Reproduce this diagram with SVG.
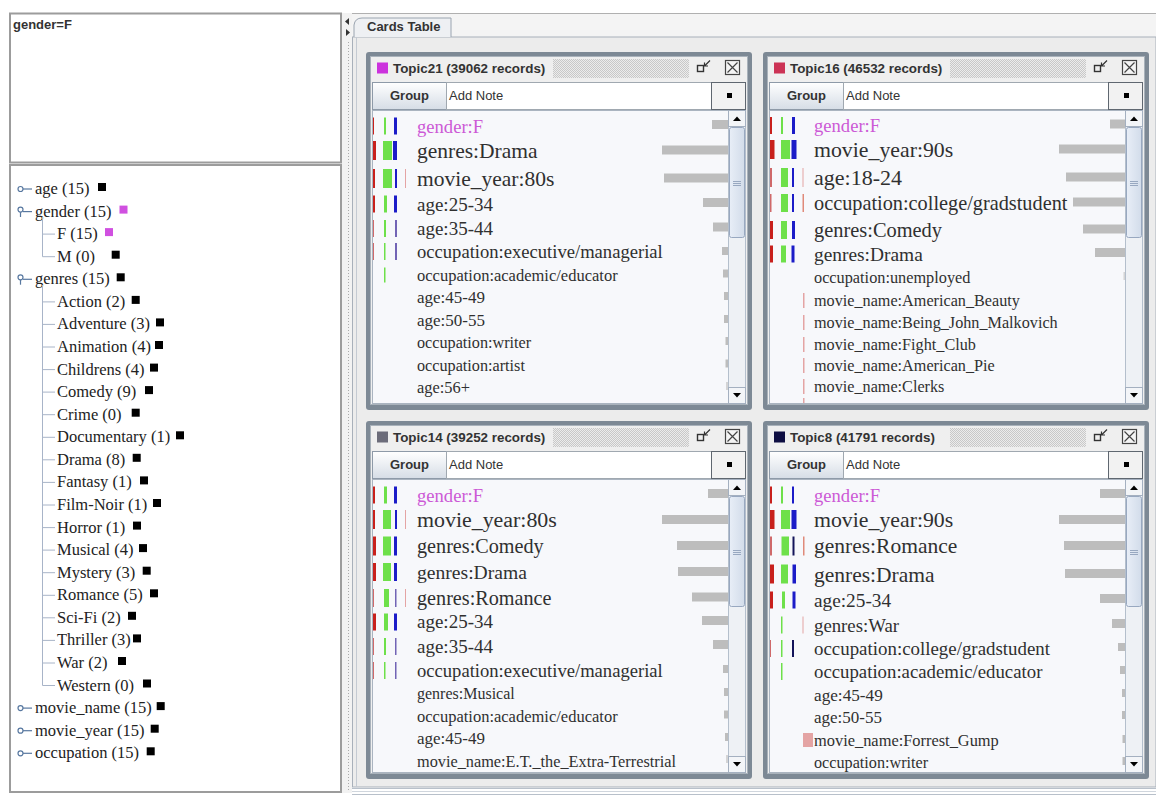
<svg xmlns="http://www.w3.org/2000/svg" width="1156" height="806" viewBox="0 0 1156 806">
<style>
.t{font-family:"Liberation Serif","Times New Roman",serif;fill:#303030}
.tr{font-family:"Liberation Serif","Times New Roman",serif;fill:#222;font-size:16.5px}
.ui{font-family:"Liberation Sans",Arial,sans-serif;fill:#333;font-size:13px}
.tt{font-size:13.4px}
.b{font-weight:bold}
.mag{fill:#cc5ad6}
.r{fill:#c8201c}
.rf{fill:#c23a3a;opacity:.75}
.g{fill:#6ee04a}
.bl{fill:#1c1cc8}
.pu{fill:#5a4aa8;opacity:.85}
.nv{fill:#14145a}
.p{fill:#e4a4a4}
.gy{fill:#bdbdbd}
.sq{fill:#000}
.sqm{fill:#d050e0}
.ln{stroke:#a8b4c8;stroke-width:1;fill:none}
.ic{stroke:#5878a0;stroke-width:1.2;fill:#fff}
</style>
<defs>
<pattern id="dots" width="2" height="2" patternUnits="userSpaceOnUse">
<rect width="2" height="2" fill="#ececec"/><rect width="1" height="1" fill="#c8c8c8"/><rect x="1" y="1" width="1" height="1" fill="#c8c8c8"/>
</pattern>
<pattern id="dots2" width="3" height="3" patternUnits="userSpaceOnUse">
<rect width="3" height="3" fill="#f2f2f2"/><rect width="1" height="1" fill="#aaaaaa"/>
</pattern>
<linearGradient id="btnGrad" x1="0" y1="0" x2="0" y2="1">
<stop offset="0" stop-color="#ffffff"/><stop offset="1" stop-color="#d6dde6"/>
</linearGradient>
<linearGradient id="thumbGrad" x1="0" y1="0" x2="1" y2="0">
<stop offset="0" stop-color="#e8eef7"/><stop offset="1" stop-color="#d2dcea"/>
</linearGradient>
<g id="cardFrame">
<rect x="366" y="52" width="386" height="358" rx="3" fill="#7d8995"/>
<rect x="370.5" y="56.5" width="377" height="348" fill="#efefef" stroke="#a9b2bb"/>
<rect x="553" y="59" width="136" height="19" fill="url(#dots)"/>
<rect x="697.5" y="65.5" width="6" height="6" fill="none" stroke="#333" stroke-width="1.4"/>
<path d="M710 60.5 L704.5 66 M704.5 62.5 L704.5 66 L708 66" fill="none" stroke="#333" stroke-width="1.2"/>
<rect x="725.5" y="60.5" width="14" height="14" fill="#f4f4f4" stroke="#444" stroke-width="1.2"/>
<path d="M727.5 62.5 L737.5 72.5 M737.5 62.5 L727.5 72.5" stroke="#444" stroke-width="1.2"/>
<rect x="372.5" y="82.5" width="74" height="27" fill="url(#btnGrad)" stroke="#8e9aa8"/>
<rect x="446.5" y="82.5" width="265" height="27" fill="#ffffff" stroke="#a0a8b0"/>
<rect x="711.5" y="82.5" width="34" height="27" fill="#f2f2f2" stroke="#5f6770"/>
<rect x="727" y="93" width="5" height="5" fill="#000"/>
<rect x="372.5" y="110.5" width="356" height="293" fill="#f7f8fb" stroke="#aab4c0"/>
<rect x="728.5" y="110.5" width="17" height="293" fill="#eef1f5" stroke="#b4bfcc"/>
<rect x="728.5" y="110.5" width="17" height="16" fill="#f3f5f8" stroke="#a4b0c0"/>
<path d="M733 121 L741 121 L737 116.5 Z" fill="#000"/>
<rect x="729.5" y="127.5" width="15" height="110" rx="2" fill="url(#thumbGrad)" stroke="#98a8c0"/>
<path d="M733 181.5h8 M733 183.5h8 M733 185.5h8" stroke="#98a8c0"/>
<rect x="728.5" y="387.5" width="17" height="16" fill="#f3f5f8" stroke="#a4b0c0"/>
<path d="M733 393 L741 393 L737 397.5 Z" fill="#000"/>
</g>
<clipPath id="listClip"><rect x="373" y="111" width="355" height="292"/></clipPath>
</defs>

<rect x="0" y="0" width="1156" height="806" fill="#ffffff"/>

<g id="left-panel">
<rect x="10" y="13.5" width="331" height="149" fill="#fff" stroke="#9c9c9c" stroke-width="2"/>
<text class="ui b" x="13" y="28.5">gender=F</text>
<rect x="10" y="165" width="331" height="627" fill="#fff" stroke="#9c9c9c" stroke-width="2"/>
</g>

<g id="divider">
<rect x="342" y="13" width="10" height="780" fill="#f2f2f2"/>
<rect x="346" y="40" width="4" height="752" fill="url(#dots2)"/>
<path d="M349 18 L345 21.5 L349 25 Z" fill="#333"/>
<path d="M346 29 L350 32.5 L346 36 Z" fill="#333"/>
</g>

<g id="right-panel">
<rect x="352" y="13" width="804" height="24" fill="#f4f4f4"/>
<line x1="352" y1="13.5" x2="1156" y2="13.5" stroke="#b0b0b0"/>
<rect x="352.5" y="37" width="803.5" height="750" fill="#ececec" stroke="#a8b0ba"/>
<line x1="356.5" y1="37" x2="356.5" y2="787" stroke="#c4cad2"/>
<path d="M354 37 L354 25 Q355 18 362 18 L451 18 L451 37" fill="#eef0f3" stroke="#9aa4b0"/>
<text class="ui b" x="367" y="31">Cards Table</text>
<line x1="352" y1="788.5" x2="1156" y2="788.5" stroke="#b8c0ca"/>
<line x1="352" y1="791.5" x2="1156" y2="791.5" stroke="#d0d6dd"/>
<line x1="352" y1="794.5" x2="1156" y2="794.5" stroke="#b8c0ca"/>
</g>

<g id="tree">
<g id="n-age"><circle class="ic" cx="20.5" cy="189" r="2.5"/><line class="ic" x1="23" y1="189" x2="32" y2="189"/><text class="tr" x="35" y="194">age (15)</text><rect class="sq" x="98" y="183" width="8" height="8"/></g>
<g id="n-gender"><circle class="ic" cx="20.5" cy="209.6" r="2.5"/><line class="ic" x1="20.5" y1="212.2" x2="20.5" y2="217" /><line class="ic" x1="23" y1="211.6" x2="32" y2="211.6"/><text class="tr" x="35" y="216.6">gender (15)</text><rect class="sqm" x="119.5" y="205.6" width="8" height="8"/></g>
<g id="n-F"><text class="tr" x="57" y="239.1">F (15)</text><rect class="sqm" x="105" y="228.1" width="8" height="8"/></g>
<g id="n-M"><text class="tr" x="57" y="261.7">M (0)</text><rect class="sq" x="111.7" y="250.7" width="8" height="8"/></g>
<g id="n-genres"><circle class="ic" cx="20.5" cy="277.3" r="2.5"/><line class="ic" x1="20.5" y1="279.9" x2="20.5" y2="284.7"/><line class="ic" x1="23" y1="279.3" x2="32" y2="279.3"/><text class="tr" x="35" y="284.3">genres (15)</text><rect class="sq" x="116.7" y="273.3" width="8" height="8"/></g>
<g id="n-Action"><text class="tr" x="57" y="306.9">Action (2)</text><rect class="sq" x="131.7" y="295.9" width="8" height="8"/></g>
<g id="n-Adventure"><text class="tr" x="57" y="329.4">Adventure (3)</text><rect class="sq" x="156" y="318.4" width="8" height="8"/></g>
<g id="n-Animation"><text class="tr" x="57" y="352">Animation (4)</text><rect class="sq" x="155" y="341" width="8" height="8"/></g>
<g id="n-Childrens"><text class="tr" x="57" y="374.6">Childrens (4)</text><rect class="sq" x="150" y="363.6" width="8" height="8"/></g>
<g id="n-Comedy"><text class="tr" x="57" y="397.1">Comedy (9)</text><rect class="sq" x="145" y="386.1" width="8" height="8"/></g>
<g id="n-Crime"><text class="tr" x="57" y="419.7">Crime (0)</text><rect class="sq" x="131.7" y="408.7" width="8" height="8"/></g>
<g id="n-Documentary"><text class="tr" x="57" y="442.3">Documentary (1)</text><rect class="sq" x="176" y="431.3" width="8" height="8"/></g>
<g id="n-Drama"><text class="tr" x="57" y="464.8">Drama (8)</text><rect class="sq" x="132.7" y="453.8" width="8" height="8"/></g>
<g id="n-Fantasy"><text class="tr" x="57" y="487.4">Fantasy (1)</text><rect class="sq" x="140" y="476.4" width="8" height="8"/></g>
<g id="n-FilmNoir"><text class="tr" x="57" y="510">Film-Noir (1)</text><rect class="sq" x="153" y="499" width="8" height="8"/></g>
<g id="n-Horror"><text class="tr" x="57" y="532.6">Horror (1)</text><rect class="sq" x="133" y="521.6" width="8" height="8"/></g>
<g id="n-Musical"><text class="tr" x="57" y="555.1">Musical (4)</text><rect class="sq" x="139" y="544.1" width="8" height="8"/></g>
<g id="n-Mystery"><text class="tr" x="57" y="577.7">Mystery (3)</text><rect class="sq" x="142.7" y="566.7" width="8" height="8"/></g>
<g id="n-Romance"><text class="tr" x="57" y="600.3">Romance (5)</text><rect class="sq" x="150" y="589.3" width="8" height="8"/></g>
<g id="n-SciFi"><text class="tr" x="57" y="622.8">Sci-Fi (2)</text><rect class="sq" x="128" y="611.8" width="8" height="8"/></g>
<g id="n-Thriller"><text class="tr" x="57" y="645.4">Thriller (3)</text><rect class="sq" x="133" y="634.4" width="8" height="8"/></g>
<g id="n-War"><text class="tr" x="57" y="668">War (2)</text><rect class="sq" x="118" y="657" width="8" height="8"/></g>
<g id="n-Western"><text class="tr" x="57" y="690.5">Western (0)</text><rect class="sq" x="143" y="679.5" width="8" height="8"/></g>
<g id="n-movie_name"><circle class="ic" cx="20.5" cy="708.1" r="2.5"/><line class="ic" x1="23" y1="708.1" x2="32" y2="708.1"/><text class="tr" x="35" y="713.1">movie_name (15)</text><rect class="sq" x="156.7" y="702.1" width="8" height="8"/></g>
<g id="n-movie_year"><circle class="ic" cx="20.5" cy="730.7" r="2.5"/><line class="ic" x1="23" y1="730.7" x2="32" y2="730.7"/><text class="tr" x="35" y="735.7">movie_year (15)</text><rect class="sq" x="150.7" y="724.7" width="8" height="8"/></g>
<g id="n-occupation"><circle class="ic" cx="20.5" cy="753.3" r="2.5"/><line class="ic" x1="23" y1="753.3" x2="32" y2="753.3"/><text class="tr" x="35" y="758.3">occupation (15)</text><rect class="sq" x="146.7" y="747.3" width="8" height="8"/></g>
</g>

<g id="connectors">
<path class="ln" d="M42.5 217 V256.7 M42.5 234.1 H55 M42.5 256.7 H55"/>
<path class="ln" d="M42.5 285 V685.5 M42.5 301.9 H55 M42.5 324.4 H55 M42.5 347 H55 M42.5 369.6 H55 M42.5 392.1 H55 M42.5 414.7 H55 M42.5 437.3 H55 M42.5 459.8 H55 M42.5 482.4 H55 M42.5 505 H55 M42.5 527.6 H55 M42.5 550.1 H55 M42.5 572.7 H55 M42.5 595.3 H55 M42.5 617.8 H55 M42.5 640.4 H55 M42.5 663 H55 M42.5 685.5 H55"/>
</g>

<g id="card-topic21">
<use href="#cardFrame"/>
<rect x="377" y="62.5" width="11" height="11" fill="#cc33dd"/>
<text class="ui b tt" x="393" y="73">Topic21 (39062 records)</text>
<text class="ui b" x="409.5" y="100" text-anchor="middle">Group</text>
<text class="ui" x="449" y="100">Add Note</text>
<g clip-path="url(#listClip)">
<text class="t mag" x="417" y="132.5" font-size="18.6">gender:F</text>
<rect class="r" x="372" y="117.5" width="2" height="17"/><rect class="g" x="384" y="117.5" width="2" height="17"/><rect class="bl" x="394" y="117.5" width="3" height="17"/><rect class="gy" x="712" y="120" width="16" height="9"/>
<text class="t" x="417" y="158" font-size="21.5">genres:Drama</text>
<rect class="r" x="372" y="141" width="4" height="19"/><rect class="g" x="383" y="141" width="9" height="19"/><rect class="bl" x="393" y="141" width="4" height="19"/><rect class="gy" x="662" y="145.5" width="66" height="9"/>
<text class="t" x="417" y="186" font-size="21.5">movie_year:80s</text>
<rect class="r" x="372" y="169" width="3" height="19"/><rect class="g" x="383" y="169" width="9" height="19"/><rect class="bl" x="395" y="169" width="2" height="19"/><rect class="p" x="405" y="169" width="1" height="19"/><rect class="gy" x="664" y="173.5" width="64" height="9"/>
<text class="t" x="417" y="210.5" font-size="19">age:25-34</text>
<rect class="r" x="372" y="195.5" width="3" height="17"/><rect class="g" x="384" y="195.5" width="3" height="17"/><rect class="bl" x="394" y="195.5" width="3" height="17"/><rect class="gy" x="703" y="198" width="25" height="9"/>
<text class="t" x="417" y="235" font-size="19">age:35-44</text>
<rect class="rf" x="372" y="220" width="2" height="17"/><rect class="g" x="384" y="220" width="2" height="17"/><rect class="pu" x="395" y="220" width="2" height="17"/><rect class="gy" x="713" y="222.5" width="15" height="9"/>
<text class="t" x="417" y="258" font-size="18.6">occupation:executive/managerial</text>
<rect class="rf" x="372" y="243" width="2" height="17"/><rect class="g" x="384" y="243" width="1.5" height="17"/><rect class="pu" x="395" y="243" width="2" height="17"/><rect class="gy" x="722" y="247" width="6" height="8"/>
<text class="t" x="417" y="280.5" font-size="16.5">occupation:academic/educator</text>
<rect class="g" x="384" y="267.5" width="1.5" height="15"/><rect class="gy" x="723" y="269.5" width="5" height="8"/>
<text class="t" x="417" y="303" font-size="17">age:45-49</text>
<rect class="gy" x="724" y="292" width="4" height="8"/>
<text class="t" x="417" y="326" font-size="17">age:50-55</text>
<rect class="gy" x="724" y="315" width="4" height="8"/>
<text class="t" x="417" y="348" font-size="16.2">occupation:writer</text>
<rect class="gy" x="725.5" y="337" width="2.5" height="8"/>
<text class="t" x="417" y="370.5" font-size="16.2">occupation:artist</text>
<rect class="gy" x="725.5" y="359.5" width="2.5" height="8"/>
<text class="t" x="417" y="393" font-size="16.4">age:56+</text>
<rect class="gy" x="726" y="382" width="2" height="8" opacity=".6"/>
</g>
</g>

<g id="card-topic16" transform="translate(397,0)">
<use href="#cardFrame"/>
<rect x="377" y="62.5" width="11" height="11" fill="#cc3355"/>
<text class="ui b tt" x="393" y="73">Topic16 (46532 records)</text>
<text class="ui b" x="409.5" y="100" text-anchor="middle">Group</text>
<text class="ui" x="449" y="100">Add Note</text>
<g clip-path="url(#listClip)">
<text class="t mag" x="417" y="132" font-size="18.6">gender:F</text>
<rect class="r" x="372" y="117" width="3" height="17"/><rect class="g" x="384" y="117" width="2" height="17"/><rect class="bl" x="395" y="117" width="3" height="17"/><rect class="gy" x="713" y="119.5" width="15" height="9"/>
<text class="t" x="417" y="157" font-size="21.8">movie_year:90s</text>
<rect class="r" x="372" y="140" width="5.5" height="19"/><rect class="g" x="384" y="140" width="9" height="19"/><rect class="bl" x="394.5" y="140" width="5" height="19"/><rect class="gy" x="662" y="144.5" width="66" height="9"/>
<text class="t" x="417" y="185" font-size="22">age:18-24</text>
<rect class="rf" x="373" y="168" width="2" height="19"/><rect class="g" x="384" y="168" width="7" height="19"/><rect class="bl" x="395" y="168" width="2" height="19"/><rect class="p" x="405.5" y="168" width="1" height="19"/><rect class="gy" x="669" y="172.5" width="59" height="9"/>
<text class="t" x="417" y="210" font-size="20.3">occupation:college/gradstudent</text>
<rect class="rf" x="372.5" y="194" width="2" height="18"/><rect class="g" x="384" y="194" width="7" height="18"/><rect class="bl" x="395" y="194" width="2" height="18"/><rect x="405.5" y="194" width="1.5" height="18" fill="#e08a7a"/><rect class="gy" x="676" y="197.5" width="52" height="9"/>
<text class="t" x="417" y="237" font-size="20.4">genres:Comedy</text>
<rect class="r" x="372" y="221" width="4" height="18"/><rect class="g" x="384" y="221" width="6" height="18"/><rect class="bl" x="395" y="221" width="3" height="18"/><rect class="gy" x="686" y="224.5" width="42" height="9"/>
<text class="t" x="417" y="260.7" font-size="19.4">genres:Drama</text>
<rect class="r" x="372" y="245.5" width="4" height="17"/><rect class="g" x="384" y="245.5" width="5" height="17"/><rect class="bl" x="394.5" y="245.5" width="3" height="17"/><rect class="gy" x="698" y="248" width="30" height="9"/>
<text class="t" x="417" y="283" font-size="16.3">occupation:unemployed</text>
<rect class="gy" x="726.5" y="272" width="1.5" height="8" opacity=".6"/>
<text class="t" x="417" y="306" font-size="16.2">movie_name:American_Beauty</text>
<rect class="p" x="406" y="293" width="1.5" height="15"/>
<text class="t" x="417" y="328" font-size="16.2">movie_name:Being_John_Malkovich</text>
<rect class="p" x="406" y="315" width="1.5" height="15"/>
<text class="t" x="417" y="350" font-size="16.2">movie_name:Fight_Club</text>
<rect class="p" x="406" y="337" width="1.5" height="15"/>
<text class="t" x="417" y="370.7" font-size="16.2">movie_name:American_Pie</text>
<rect class="p" x="406" y="358" width="1.5" height="15"/>
<text class="t" x="417" y="391.7" font-size="16.2">movie_name:Clerks</text>
<rect class="p" x="406" y="379" width="1.5" height="15"/>
<rect class="p" x="406" y="398" width="1.5" height="6"/>
</g>
</g>

<g id="card-topic14" transform="translate(0,369)">
<use href="#cardFrame"/>
<rect x="377" y="62.5" width="11" height="11" fill="#6c6c7a"/>
<text class="ui b tt" x="393" y="73">Topic14 (39252 records)</text>
<text class="ui b" x="409.5" y="100" text-anchor="middle">Group</text>
<text class="ui" x="449" y="100">Add Note</text>
<g clip-path="url(#listClip)">
<text class="t mag" x="417" y="132.7" font-size="18.6">gender:F</text>
<rect class="r" x="372" y="117.5" width="3" height="17"/><rect class="g" x="384" y="117.5" width="3" height="17"/><rect class="bl" x="394" y="117.5" width="3" height="17"/><rect class="gy" x="708" y="120" width="20" height="9"/>
<text class="t" x="417" y="158.3" font-size="21.9">movie_year:80s</text>
<rect class="r" x="372" y="141" width="3" height="19"/><rect class="g" x="383" y="141" width="8" height="19"/><rect class="bl" x="395" y="141" width="2" height="19"/><rect class="p" x="405" y="141" width="1" height="19"/><rect class="gy" x="662" y="146" width="66" height="9"/>
<text class="t" x="417" y="184.3" font-size="20.2">genres:Comedy</text>
<rect class="r" x="372" y="167.5" width="4" height="19"/><rect class="g" x="383" y="167.5" width="8" height="19"/><rect class="bl" x="394" y="167.5" width="3" height="19"/><rect class="gy" x="677" y="172" width="51" height="9"/>
<text class="t" x="417" y="210.3" font-size="19.6">genres:Drama</text>
<rect class="r" x="372" y="194" width="4" height="18"/><rect class="g" x="383" y="194" width="8" height="18"/><rect class="bl" x="394" y="194" width="3" height="18"/><rect class="gy" x="678" y="198" width="50" height="9"/>
<text class="t" x="417" y="236" font-size="20.2">genres:Romance</text>
<rect class="rf" x="372" y="220" width="2" height="18"/><rect class="g" x="384" y="220" width="5" height="18"/><rect class="pu" x="395" y="220" width="1.5" height="18"/><rect class="p" x="405" y="220" width="1" height="18"/><rect class="gy" x="692" y="223.5" width="36" height="9"/>
<text class="t" x="417" y="259.3" font-size="19">age:25-34</text>
<rect class="r" x="372" y="244.5" width="4" height="17"/><rect class="g" x="384" y="244.5" width="4" height="17"/><rect class="bl" x="394" y="244.5" width="3" height="17"/><rect class="gy" x="702" y="247" width="26" height="9"/>
<text class="t" x="417" y="283.7" font-size="19">age:35-44</text>
<rect class="rf" x="372" y="269" width="2" height="17"/><rect class="g" x="384" y="269" width="2" height="17"/><rect class="pu" x="395" y="269" width="1.5" height="17"/><rect class="gy" x="713" y="271" width="15" height="9"/>
<text class="t" x="417" y="307.7" font-size="18.6">occupation:executive/managerial</text>
<rect class="rf" x="372" y="293" width="2" height="17"/><rect class="g" x="384" y="293" width="1.5" height="17"/><rect class="pu" x="395" y="293" width="1.5" height="17"/><rect class="gy" x="723" y="296" width="5" height="8"/>
<text class="t" x="417" y="330.3" font-size="16">genres:Musical</text>
<rect class="gy" x="724" y="319" width="4" height="8"/>
<text class="t" x="417" y="352.7" font-size="16.5">occupation:academic/educator</text>
<rect class="gy" x="724" y="341.5" width="4" height="8"/>
<text class="t" x="417" y="375" font-size="17">age:45-49</text>
<rect class="gy" x="725" y="364" width="3" height="8"/>
<text class="t" x="417" y="397.7" font-size="16.3">movie_name:E.T._the_Extra-Terrestrial</text>
<rect class="gy" x="726" y="386" width="2" height="8" opacity=".6"/>
</g>
</g>

<g id="card-topic8" transform="translate(397,369)">
<use href="#cardFrame"/>
<rect x="377" y="62.5" width="11" height="11" fill="#0e0e42"/>
<text class="ui b tt" x="393" y="73">Topic8 (41791 records)</text>
<text class="ui b" x="409.5" y="100" text-anchor="middle">Group</text>
<text class="ui" x="449" y="100">Add Note</text>
<g clip-path="url(#listClip)">
<text class="t mag" x="417" y="132.7" font-size="18.6">gender:F</text>
<rect class="r" x="372" y="117.5" width="3" height="17"/><rect class="g" x="384" y="117.5" width="2" height="17"/><rect class="bl" x="395" y="117.5" width="2" height="17"/><rect class="gy" x="703" y="120" width="25" height="9"/>
<text class="t" x="417" y="158.3" font-size="21.8">movie_year:90s</text>
<rect class="r" x="372" y="141" width="5.5" height="19"/><rect class="g" x="384" y="141" width="9" height="19"/><rect class="bl" x="394.5" y="141" width="5" height="19"/><rect class="gy" x="662" y="146" width="66" height="9"/>
<text class="t" x="417" y="184.3" font-size="21.5">genres:Romance</text>
<rect class="rf" x="373" y="167.5" width="2" height="19"/><rect class="g" x="384.5" y="167.5" width="7.5" height="19"/><rect class="nv" x="395.5" y="167.5" width="2" height="19"/><rect x="406" y="167.5" width="1.5" height="19" fill="#e08a7a"/><rect class="gy" x="667" y="172" width="61" height="9"/>
<text class="t" x="417" y="212.7" font-size="21.5">genres:Drama</text>
<rect class="r" x="372" y="195.5" width="5" height="19"/><rect class="g" x="384" y="195.5" width="7" height="19"/><rect class="bl" x="395.5" y="195.5" width="3.5" height="19"/><rect class="gy" x="668" y="200" width="60" height="9"/>
<text class="t" x="417" y="237.7" font-size="19.3">age:25-34</text>
<rect class="r" x="372" y="222.5" width="4" height="17"/><rect class="g" x="385" y="222.5" width="3" height="17"/><rect class="bl" x="395.5" y="222.5" width="3" height="17"/><rect class="gy" x="703" y="225" width="25" height="9"/>
<text class="t" x="417" y="262.7" font-size="18.8">genres:War</text>
<rect class="g" x="384" y="247.5" width="1.5" height="17"/><rect class="p" x="405.5" y="247.5" width="1" height="17"/><rect class="gy" x="715" y="250" width="13" height="9"/>
<text class="t" x="417" y="286" font-size="18.9">occupation:college/gradstudent</text>
<rect class="rf" x="372" y="271" width="2" height="17"/><rect class="g" x="384" y="271" width="1.5" height="17"/><rect class="nv" x="395" y="271" width="2" height="17"/><rect class="gy" x="721" y="274" width="7" height="8"/>
<text class="t" x="417" y="309.3" font-size="18.8">occupation:academic/educator</text>
<rect class="g" x="384" y="294" width="1.5" height="17"/><rect class="gy" x="723" y="297" width="5" height="8"/>
<text class="t" x="417" y="331.7" font-size="17.2">age:45-49</text>
<rect class="gy" x="725" y="320" width="3" height="8"/>
<text class="t" x="417" y="353.7" font-size="17">age:50-55</text>
<rect class="gy" x="725" y="342" width="3" height="8"/>
<rect class="p" x="406" y="364" width="10" height="14"/>
<text class="t" x="417" y="377" font-size="16.4">movie_name:Forrest_Gump</text>
<rect class="gy" x="725.5" y="366" width="2.5" height="8"/>
<text class="t" x="417" y="399.3" font-size="16.2">occupation:writer</text>
<rect class="gy" x="725.5" y="388" width="2.5" height="8"/>
</g>
</g>
</svg>
